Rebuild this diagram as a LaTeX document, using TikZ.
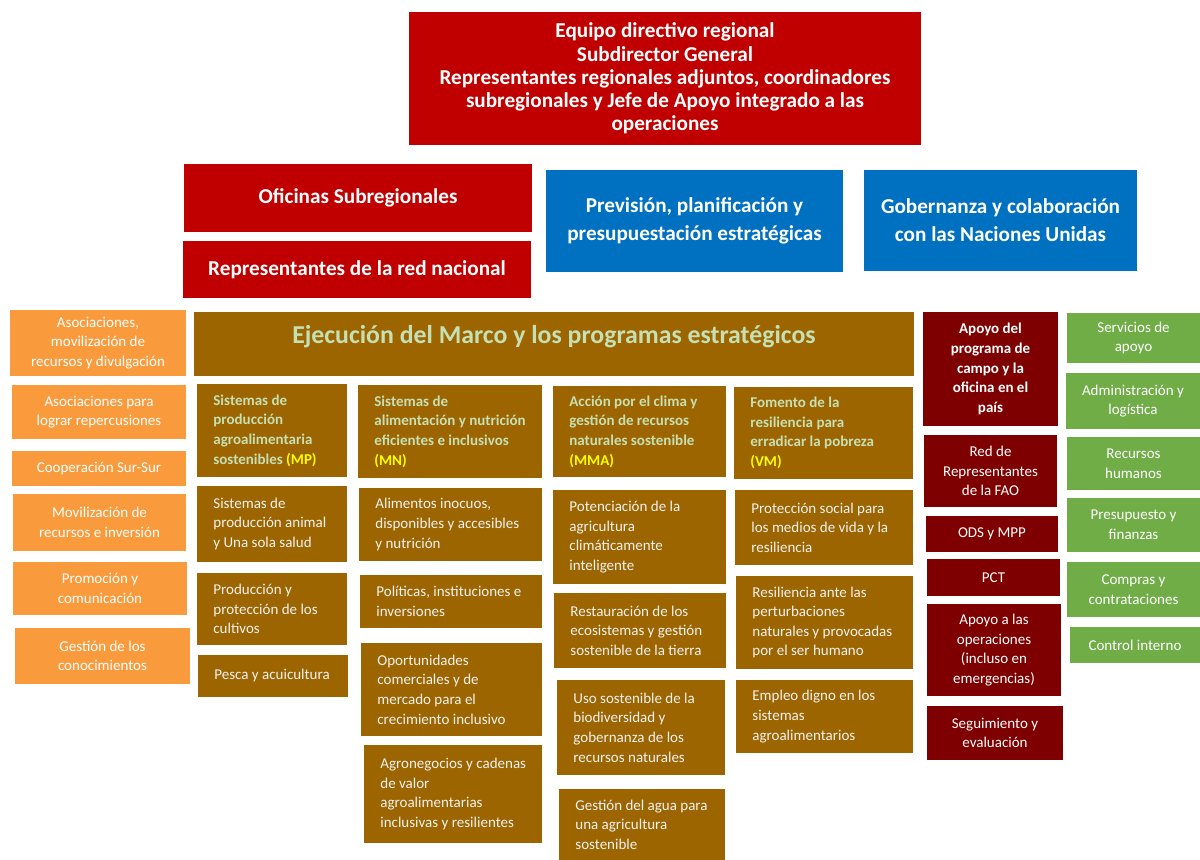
\documentclass[tikz,border=0pt]{standalone}
\usepackage{fontspec}
\setmainfont{Carlito}

\definecolor{regred}{HTML}{C00000}
\definecolor{planblue}{HTML}{0070C0}
\definecolor{progbrown}{HTML}{9C6500}
\definecolor{fieldred}{HTML}{7F0000}
\definecolor{partorange}{HTML}{F99B3C}
\definecolor{servgreen}{HTML}{70AD47}
\definecolor{headgreen}{HTML}{C6E0B4}
\definecolor{tagyellow}{HTML}{FFFF00}

\tikzset{
  blk/.style={inner sep=1pt, align=center, text=white},
  topbox/.style={blk, fill=regred, font=\fontsize{10.6}{11.6}\selectfont\bfseries},
  subbox/.style={blk, fill=regred, font=\fontsize{10.6}{13}\selectfont\bfseries},
  bluebox/.style={blk, fill=planblue, font=\fontsize{10.6}{14}\selectfont\bfseries},
  titlebox/.style={blk, fill=progbrown, text=headgreen, text height=8pt, text depth=8pt,
    font=\fontsize{12.9}{14}\selectfont\bfseries},
  orangebox/.style={blk, fill=partorange, font=\fontsize{7.5}{9.8}\selectfont},
  fieldbox/.style={blk, fill=fieldred, font=\fontsize{7.5}{9.8}\selectfont},
  fieldhead/.style={fieldbox, font=\fontsize{7.5}{9.8}\selectfont\bfseries},
  greenbox/.style={blk, fill=servgreen, font=\fontsize{7.5}{9.8}\selectfont},
  brownbox/.style={blk, fill=progbrown, text=white!95!black, font=\fontsize{7.5}{9.8}\selectfont},
  brownhead/.style={brownbox, text=headgreen, font=\fontsize{7.5}{9.8}\selectfont\bfseries}
}

% box from corner (x1,y1) to (x2,y2), text centred
\newcommand{\cblk}[7]{%
  \pgfmathsetmacro{\bw}{(#5-#3)/2}\pgfmathsetmacro{\bh}{(#6-#4)/2}%
  \node[#2, minimum width=\bw pt, minimum height=\bh pt] (#1) at ({(#3+#5)/2},{(#4+#6)/2}) {#7};}
% same, text set to the left
\newcommand{\lblk}[7]{%
  \fill[#2] (#3,#4) rectangle (#5,#6);
  \node[#2, fill=none, anchor=west, align=left] (#1) at ({#3+14},{(#4+#6)/2}) {#7};}
\newcommand{\tag}[1]{{\color{tagyellow}#1}}

\begin{document}
\begin{tikzpicture}[x=0.5pt, y=-0.5pt]
  \useasboundingbox (0,0) rectangle (1200,860);

  % direccion
  \cblk{dir}{topbox}{409}{12}{921}{145}{Equipo directivo regional\\Subdirector General\\Representantes regionales adjuntos, coordinadores\\subregionales y Jefe de Apoyo integrado a las\\operaciones}
  \cblk{subreg}{subbox}{184}{164}{532}{232}{Oficinas Subregionales}
  \cblk{rednac}{subbox}{183}{241}{531}{298}{Representantes de la red nacional}
  \cblk{prev}{bluebox}{546}{170}{843}{272}{Previsión, planificación y\\presupuestación estratégicas}
  \cblk{gob}{bluebox}{864}{170}{1137}{271}{Gobernanza y colaboración\\con las Naciones Unidas}

  % asociaciones
  \cblk{asoc}{orangebox}{10}{310}{186}{376}{Asociaciones,\\movilización de\\recursos y divulgación}
  \cblk{repercus}{orangebox}{12}{385}{186}{439}{Asociaciones para\\lograr repercusiones}
  \cblk{sursur}{orangebox}{12}{451}{186}{486}{Cooperación Sur-Sur}
  \cblk{movil}{orangebox}{13}{494}{186}{551}{Movilización de\\recursos e inversión}
  \cblk{promo}{orangebox}{13}{562}{187}{615}{Promoción y\\comunicación}
  \cblk{conoc}{orangebox}{15}{628}{190}{684}{Gestión de los\\conocimientos}

  % ejecucion
  \cblk{marco}{titlebox}{194}{312}{914}{376}{Ejecución del Marco y los programas estratégicos}

  \lblk{mp}{brownhead}{197}{384}{347}{477}{Sistemas de\\producción\\agroalimentaria\\sostenibles \tag{(MP)}}
  \lblk{mp1}{brownbox}{197}{486}{347}{562}{Sistemas de\\producción animal\\y Una sola salud}
  \lblk{mp2}{brownbox}{197}{573}{347}{645}{Producción y\\protección de los\\cultivos}
  \lblk{mp3}{brownbox}{198}{655}{348}{697}{Pesca y acuicultura}

  \lblk{mn}{brownhead}{358}{385}{542}{478}{Sistemas de\\alimentación y nutrición\\eficientes e inclusivos\\\tag{(MN)}}
  \lblk{mn1}{brownbox}{359}{488}{542}{561}{Alimentos inocuos,\\disponibles y accesibles\\y nutrición}
  \lblk{mn2}{brownbox}{360}{575}{542}{628}{Políticas, instituciones e\\inversiones}
  \lblk{mn3}{brownbox}{361}{643}{542}{736}{Oportunidades\\comerciales y de\\mercado para el\\crecimiento inclusivo}
  \lblk{mn4}{brownbox}{364}{745}{542}{843}{Agronegocios y cadenas\\de valor\\agroalimentarias\\inclusivas y resilientes}

  \lblk{mma}{brownhead}{553}{386}{726}{477}{Acción por el clima y\\gestión de recursos\\naturales sostenible\\\tag{(MMA)}}
  \lblk{mma1}{brownbox}{553}{490}{726}{584}{Potenciación de la\\agricultura\\climáticamente\\inteligente}
  \lblk{mma2}{brownbox}{554}{593}{726}{668}{Restauración de los\\ecosistemas y gestión\\sostenible de la tierra}
  \lblk{mma3}{brownbox}{557}{680}{725}{775}{Uso sostenible de la\\biodiversidad y\\gobernanza de los\\recursos naturales}
  \lblk{mma4}{brownbox}{559}{789}{725}{860}{Gestión del agua para\\una agricultura\\sostenible}

  \lblk{vm}{brownhead}{734}{387}{913}{479}{Fomento de la\\resiliencia para\\erradicar la pobreza\\\tag{(VM)}}
  \lblk{vm1}{brownbox}{735}{490}{913}{565}{Protección social para\\los medios de vida y la\\resiliencia}
  \lblk{vm2}{brownbox}{736}{576}{913}{669}{Resiliencia ante las\\perturbaciones\\naturales y provocadas\\por el ser humano}
  \lblk{vm3}{brownbox}{736}{680}{913}{753}{Empleo digno en los\\sistemas\\agroalimentarios}

  % apoyo de campo
  \cblk{campo}{fieldhead}{923}{312}{1058}{426}{Apoyo del\\programa de\\campo y la\\oficina en el\\país}
  \cblk{redfao}{fieldbox}{924}{435}{1057}{507}{Red de\\Representantes\\de la FAO}
  \cblk{ods}{fieldbox}{926}{516}{1058}{552}{ODS y MPP}
  \cblk{pct}{fieldbox}{927}{559}{1060}{596}{PCT}
  \cblk{operac}{fieldbox}{927}{604}{1061}{696}{Apoyo a las\\operaciones\\(incluso en\\emergencias)}
  \cblk{segui}{fieldbox}{927}{706}{1063}{760}{Seguimiento y\\evaluación}

  % servicios
  \cblk{serv}{greenbox}{1067}{313}{1200}{363}{Servicios de\\apoyo}
  \cblk{admin}{greenbox}{1066}{373}{1200}{429}{Administración y\\logística}
  \cblk{rrhh}{greenbox}{1067}{437}{1200}{490}{Recursos\\humanos}
  \cblk{presup}{greenbox}{1067}{498}{1200}{552}{Presupuesto y\\finanzas}
  \cblk{compras}{greenbox}{1067}{562}{1200}{617}{Compras y\\contrataciones}
  \cblk{control}{greenbox}{1070}{627}{1200}{663}{Control interno}
\end{tikzpicture}
\end{document}
